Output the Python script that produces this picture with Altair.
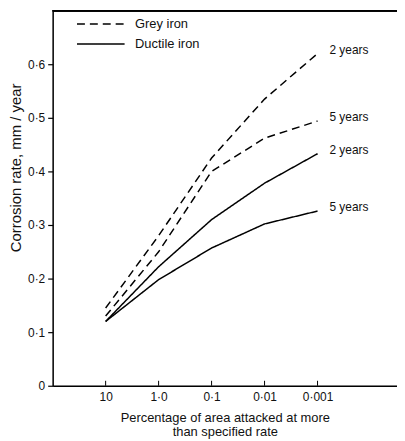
import altair as alt
import pandas as pd

# ---- data ----
pct = [10, 1.0, 0.1, 0.01, 0.001]
pct_labels = ["10", "1·0", "0·1", "0·01", "0·001"]

grey_2y = [0.145, 0.28, 0.425, 0.535, 0.62]
grey_5y = [0.13, 0.25, 0.40, 0.462, 0.494]
ductile_2y = [0.12, 0.222, 0.31, 0.378, 0.433]
ductile_5y = [0.12, 0.198, 0.257, 0.302, 0.326]

materials = ["Grey iron", "Grey iron", "Ductile iron", "Ductile iron"]
periods = ["2 years", "5 years", "2 years", "5 years"]
series_vals = [grey_2y, grey_5y, ductile_2y, ductile_5y]

rows = []
for m, p, vals in zip(materials, periods, series_vals):
    for x, v in zip(pct, vals):
        rows.append({"pct": x, "rate": v, "material": m, "period": p, "series": m + " " + p})
df = pd.DataFrame(rows)
ticks_df = pd.DataFrame({"pct": pct})

W, H = 347, 378
FONT = "Liberation Sans"

# label expression for x
xexpr = "''"
for v, lab in reversed(list(zip(pct, pct_labels))):
    xexpr = f"(abs(datum.value - {v}) < {v}*1e-6 ? '{lab}' : {xexpr})"

xscale = alt.Scale(type="log", domain=[100, 10 ** -4.5])
yscale = alt.Scale(domain=[0, 0.7], nice=False)

x_enc = alt.X(
    "pct:Q",
    scale=xscale,
    axis=alt.Axis(
        values=pct,
        labelExpr=xexpr,
        ticks=False,
        grid=False,
        title=["Percentage of area attacked at more", "than specified rate"],
        titleFontSize=13,
        titleFontWeight="normal",
        titlePadding=9,
        titleLineHeight=14,
        labelFontSize=12,
        labelPadding=6,
        domainColor="black",
        domainWidth=1.5,
        labelColor="#111",
        titleColor="#111",
    ),
)

y_enc = alt.Y(
    "rate:Q",
    scale=yscale,
    axis=alt.Axis(
        values=[0, 0.1, 0.2, 0.3, 0.4, 0.5, 0.6],
        labelExpr="datum.value == 0 ? '0' : replace(format(datum.value, '.1f'), '.', '·')",
        title="Corrosion rate,  mm / year",
        titleFontSize=15,
        titleFontWeight="normal",
        titlePadding=4,
        titleY=158,
        labelFontSize=12,
        labelPadding=3,
        tickSize=5,
        tickColor="black",
        tickWidth=1.2,
        grid=False,
        domainColor="black",
        domainWidth=1.5,
        labelColor="#111",
        titleColor="#111",
    ),
)

lines = alt.Chart(df).mark_line(color="black", strokeWidth=1.5).encode(
    x=x_enc,
    y=y_enc,
    detail="series:N",
    strokeDash=alt.StrokeDash(
        "material:N",
        scale=alt.Scale(domain=["Grey iron", "Ductile iron"], range=[[8, 5], [1, 0]]),
        legend=alt.Legend(
            title=None,
            orient="none",
            legendX=42,
            legendY=7,
            symbolType="M-4.8,0H4.8",
            symbolSize=100,
            symbolStrokeWidth=1.5,
            symbolStrokeColor="black",
            labelFontSize=13,
            labelOffset=28,
            rowPadding=6,
            labelColor="#111",
        ),
    ),
)

end_labels = alt.Chart(df).transform_filter(alt.datum.pct == 0.001).mark_text(
    align="left", baseline="middle", dx=12, dy=-4, fontSize=12, font=FONT, color="#111"
).encode(
    x=alt.X("pct:Q", scale=xscale),
    y=alt.Y("rate:Q", scale=yscale),
    text="period:N",
)

xticks = alt.Chart(ticks_df).mark_rule(color="black", strokeWidth=1).encode(
    x=alt.X("pct:Q", scale=xscale),
    y=alt.value(H - 5),
    y2=alt.value(H),
)

top_border = alt.Chart(ticks_df).mark_rule(color="black", strokeWidth=1.5).encode(
    x=alt.value(0), x2=alt.value(W + 5), y=alt.value(0)
)

chart = (
    alt.layer(lines, end_labels, xticks, top_border)
    .properties(
        width=W,
        height=H,
        autosize=alt.AutoSizeParams(type="none"),
        padding={"left": 45, "top": 1, "right": 0, "bottom": 53},
    )
    .configure_view(strokeWidth=0)
    .configure(font=FONT, background="white")
)

chart.save("out.html", embed_options={"renderer": "svg", "actions": False})
